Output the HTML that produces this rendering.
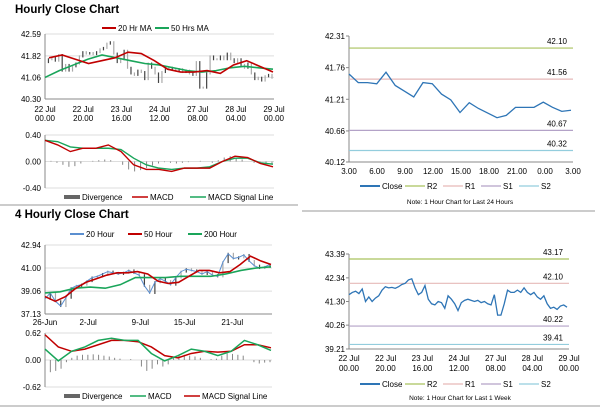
<!DOCTYPE html>
<html><head><meta charset="utf-8"><style>
body{margin:0;background:#fff;font-family:"Liberation Sans",Arial,sans-serif;}
svg text{font-family:"Liberation Sans",Arial,sans-serif;}
</style></head><body>
<svg id="s" width="600" height="413" xmlns="http://www.w3.org/2000/svg"></svg>
<script>
// ---- data ----
const weekClose=[41.6,41.7,41.75,41.65,41.85,41.3,41.5,41.3,41.45,41.55,41.8,41.95,41.9,41.92,41.88,41.95,42.05,42.1,42.25,42.3,41.9,41.6,41.7,42.0,41.4,41.2,41.15,41.3,41.25,41.0,41.55,41.4,41.2,40.9,41.25,41.35,41.4,41.35,41.3,41.35,41.25,41.3,41.2,41.15,41.6,40.7,40.7,41.2,41.8,41.7,41.7,41.8,41.7,41.9,41.7,41.6,41.7,41.5,41.4,41.55,41.2,41.0,41.05,40.95,41.1,41.15,41.05];
const ma20h=[41.75,41.85,41.7,41.55,41.65,41.75,41.95,41.9,41.65,41.35,41.25,41.25,41.3,41.2,41.5,41.65,41.45,41.25];
const ma50h=[41.06,41.3,41.5,41.7,41.85,41.75,41.65,41.55,41.5,41.4,41.3,41.25,41.3,41.4,41.45,41.4,41.35];
const macd1=[0.32,0.25,0.15,0.2,0.2,0.25,0.15,-0.05,-0.12,-0.12,-0.15,-0.1,-0.1,-0.1,0.0,0.08,0.06,-0.03,-0.08];
const sig1=[0.32,0.3,0.22,0.2,0.2,0.2,0.18,0.05,-0.05,-0.1,-0.12,-0.1,-0.1,-0.08,0.0,0.05,0.05,-0.02,-0.04];
const div1=[0.02,0.01,-0.02,-0.05,-0.08,-0.07,-0.03,0.0,0.01,0.02,0.03,0.02,0.0,-0.05,-0.12,-0.15,-0.13,-0.1,-0.06,-0.03,-0.01,-0.02,-0.03,-0.02,-0.01,0.0,0.01,0.0,-0.02,0.02,0.06,0.08,0.06,0.03,0.0,-0.02,-0.03,-0.04,-0.03];
const dayClose=[41.65,41.5,41.5,41.48,41.68,41.45,41.35,41.25,41.5,41.48,41.3,41.2,40.98,41.15,41.05,40.97,40.89,40.93,41.07,41.07,41.07,41.16,41.07,41.0,41.02];
const dayLevels=[42.10,41.56,40.67,40.32];
const weekLevels=[43.17,42.10,40.22,39.41];
const h4Close=[38.4,38.9,38.2,37.8,38.5,39.3,39.5,39.6,39.9,40.2,40.3,40.5,40.7,40.6,40.5,40.6,40.8,40.6,40.4,39.5,38.9,39.8,40.1,39.9,39.6,40.2,40.7,40.9,40.8,40.7,40.5,40.7,40.4,40.3,41.5,42.2,41.8,41.9,42.1,41.6,41.2,41.0,41.1,41.3];
const ma50=[38.6,38.2,38.6,39.3,39.8,40.1,40.4,40.6,40.6,40.7,40.5,39.9,39.7,39.8,40.3,40.8,40.8,40.6,40.7,41.3,42.0,41.6,41.3];
const ma200=[38.9,39.0,39.3,39.4,39.3,39.6,40.2,40.2,40.2,40.3,40.3,40.3,40.5,40.8,41.0,41.1];
const macd2=[0.25,-0.02,0.2,0.3,0.45,0.5,0.45,0.45,0.15,-0.02,0.1,0.25,0.2,0.1,0.2,0.45,0.35,0.22];
const sig2=[0.58,0.3,0.2,0.25,0.35,0.45,0.45,0.42,0.3,0.1,0.05,0.15,0.2,0.18,0.2,0.35,0.35,0.28];
const div2=[-0.3,-0.28,-0.25,-0.2,-0.05,0.05,0.1,0.12,0.12,0.13,0.12,0.1,0.08,0.05,0.03,0.0,0.02,0.0,-0.15,-0.25,-0.2,-0.1,-0.15,-0.1,0.05,0.1,0.12,0.1,0.08,0.05,0.0,0.02,0.03,0.1,0.15,0.14,0.12,0.1,0.0,-0.05,-0.08,-0.06,-0.05];
const xl1=["22 Jul|00.00","22 Jul|20.00","23 Jul|16.00","24 Jul|12.00","27 Jul|08.00","28 Jul|04.00","29 Jul|00.00"];
const xl2=["3.00","6.00","9.00","12.00","15.00","18.00","21.00","0.00","3.00"];
const xl3=["26-Jun","2-Jul","9-Jul","15-Jul","21-Jul"];
const xl3pos=[0,0.19,0.42,0.615,0.825];
// ---- helpers ----
const S=document.getElementById('s');const NS='http://www.w3.org/2000/svg';
function el(t,a,txt){const e=document.createElementNS(NS,t);for(const k in a)e.setAttribute(k,a[k]);if(txt!=null)e.textContent=txt;S.appendChild(e);return e;}
function sc(d0,d1,r0,r1){return v=>r0+(v-d0)/(d1-d0)*(r1-r0);}
function line(arr,x0,x1,y,col,w,name){const xs=sc(0,arr.length-1,x0,x1);const p=el('polyline',{points:arr.map((v,i)=>xs(i)+','+y(v)).join(' '),fill:'none',stroke:col,'stroke-width':w});return p;}
function txt(x,y,s,anchor,size,extra){const t=el('text',Object.assign({x:x,y:y,'font-size':size||8,'text-anchor':anchor||'start',fill:'#000'},extra||{}),s);return t;}
function hl(x0,x1,y,col){el('line',{x1:x0,x2:x1,y1:y,y2:y,stroke:col,'stroke-width':1});}
function candles(arr,x0,x1,y,name){const xs=sc(0,arr.length-1,x0,x1);for(let i=1;i<arr.length;i++){const a=arr[i-1],b=arr[i];const r=el('rect',{x:xs(i)-0.6,y:Math.min(y(a),y(b))-1,width:1.2,height:Math.abs(y(a)-y(b))+2,fill:i%2?'#444':'#aaa'});}}
function hist(arr,x0,x1,y,name){const xs=sc(0,arr.length-1,x0,x1);arr.forEach((v,i)=>{const r=el('rect',{x:xs(i)-0.5,y:Math.min(y(v),y(0)),width:1,height:Math.abs(y(v)-y(0)),fill:'#888'});});}
function legItem(x,y,col,label,w,thick){el('line',{x1:x,x2:x+w,y1:y-3,y2:y-3,stroke:col,'stroke-width':thick||2});txt(x+w+2,y,label);}
// ---- titles & separators ----
txt(15,13,'Hourly Close Chart','start',11.5,{'font-weight':'bold'});
txt(15,218,'4 Hourly Close Chart','start',11.5,{'font-weight':'bold'});
hl(0,298,205,'#999');hl(0,600,406,'#999');hl(302,595,211,'#999');
// ---- Panel 1 top-left ----
{const y=sc(40.30,42.59,99,34);const X0=45,X1=274;
[42.59,41.82,41.06].forEach(v=>hl(X0,X1,y(v),'#ddd'));
el('line',{x1:X0,x2:X0,y1:34,y2:99,stroke:'#888'});hl(X0,X1,99,'#888');
[42.59,41.82,41.06,40.30].forEach(v=>txt(41,y(v)+3,v.toFixed(2),'end'));
xl1.forEach((s,i)=>{const x=X0+i*(X1-X0)/6;const p=s.split('|');txt(x,112,p[0],'middle');txt(x,121,p[1],'middle');});
candles(weekClose,X0,X1-2,y,'price-bar');
line(ma50h,X0,X1-1,y,'#1aa55a',1.6,'ma50-line');line(ma20h,X0+4,X1-1,y,'#c00000',1.6,'ma20-line');
legItem(102,31,'#c00000','20 Hr MA',14);legItem(155,31,'#1aa55a','50 Hrs MA',14);
const m=sc(-0.40,0.40,188,135);
[0.40,0.00,-0.40].forEach(v=>{hl(X0,X1,m(v),'#ddd');txt(41,m(v)+3,v.toFixed(2),'end');});
el('line',{x1:X0,x2:X0,y1:135,y2:188,stroke:'#888'});
hist(div1,X0,X1-2,m,'divergence-bar');
line(sig1,X0,X1-1,m,'#1aa55a',1.4,'macd-signal-line');line(macd1,X0,X1-1,m,'#c00000',1.4,'macd-line');
el('rect',{x:64,y:195,width:16,height:4,fill:'#666'});txt(82,200,'Divergence');
legItem(132,200,'#c00000','MACD',16,1.5);legItem(190,200,'#1aa55a','MACD Signal Line',16,1.5);}
// ---- right panels ----
function levelsPanel(X0,X1,Ytop,Ybot,d0,d1,ticks,levels,close,labels,ly,note,ny){
const y=sc(d0,d1,Ybot,Ytop);const cols=['#a9c25d','#e6b9b8','#b3a2c7','#93cddd'];
el('line',{x1:X0,x2:X0,y1:Ytop,y2:Ybot,stroke:'#888'});hl(X0,X1,Ybot,'#888');
ticks.forEach(v=>{txt(X0-4,y(v)+3,v.toFixed(2),'end');hl(X0-3,X0,y(v),'#888');});
levels.forEach((v,i)=>{const l=el('line',{x1:X0,x2:X1,y1:y(v),y2:y(v),stroke:cols[i],'stroke-width':1.2});});
levels.forEach((v,i)=>{txt(X1-6,y(v)-4,v.toFixed(2),'end');});
line(close,X0,X1-2,y,'#2e75b6',1.3,'close-line');
labels.forEach((s,i)=>{const x=X0+i*(X1-X0)/(labels.length-1);const p=s.split('|');txt(x,Ybot+12,p[0],'middle');if(p[1])txt(x,Ybot+22,p[1],'middle');});
legItem(360,ly,'#2e75b6','Close',20,2);['R2','R1','S1','S2'].forEach((n,i)=>legItem(405+i*38,ly,cols[i],n,20,1.2));
txt(460,ny,note,'middle',6.5);}
levelsPanel(349,573,36,162,40.12,42.31,[42.31,41.76,41.21,40.66,40.12],dayLevels,dayClose,xl2,189,'Note: 1 Hour Chart for Last 24 Hours',204);
levelsPanel(349,569,254,349,39.21,43.39,[43.39,42.34,41.30,40.26,39.21],weekLevels,weekClose,xl1,387,'Note: 1 Hour Chart for Last 1 Week',400);
// ---- Panel 3 bottom-left ----
{const y=sc(37.13,42.94,314,245);const X0=45,X1=272;
[42.94,41.00,39.06].forEach(v=>hl(X0,X1,y(v),'#ddd'));
el('line',{x1:X0,x2:X0,y1:245,y2:314,stroke:'#888'});hl(X0,X1,314,'#888');
[42.94,41.00,39.06,37.13].forEach(v=>txt(41,y(v)+3,v.toFixed(2),'end'));
xl3.forEach((s,i)=>txt(X0+xl3pos[i]*(X1-X0),325,s,'middle'));
candles(h4Close,X0,X1-2,y,'price-bar');
line(h4Close,X0,X1-2,y,'#5b8fd0',1,'ma20-line');
line(ma200,X0,X1-1,y,'#1aa55a',1.6,'ma200-line');line(ma50,X0,X1-1,y,'#c00000',1.6,'ma50-line');
legItem(70,237,'#5b8fd0','20 Hour',14);legItem(128,237,'#c00000','50 Hour',14);legItem(188,237,'#1aa55a','200 Hour',14);
const m=sc(-0.62,0.62,387,333);
[0.62,0.00,-0.62].forEach(v=>{hl(X0,X1,m(v),'#ddd');txt(41,m(v)+3,v.toFixed(2),'end');});
el('line',{x1:X0,x2:X0,y1:333,y2:387,stroke:'#888'});
hist(div2,X0,X1-2,m,'divergence-bar');
line(sig2,X0,X1-1,m,'#c00000',1.5,'macd-signal-line');line(macd2,X0,X1-1,m,'#1aa55a',1.5,'macd-line');
el('rect',{x:64,y:394,width:16,height:4,fill:'#666'});txt(82,399,'Divergence');
legItem(130,399,'#1aa55a','MACD',16,1.5);legItem(184,399,'#c00000','MACD Signal Line',16,1.5);}
</script>
</body></html>
